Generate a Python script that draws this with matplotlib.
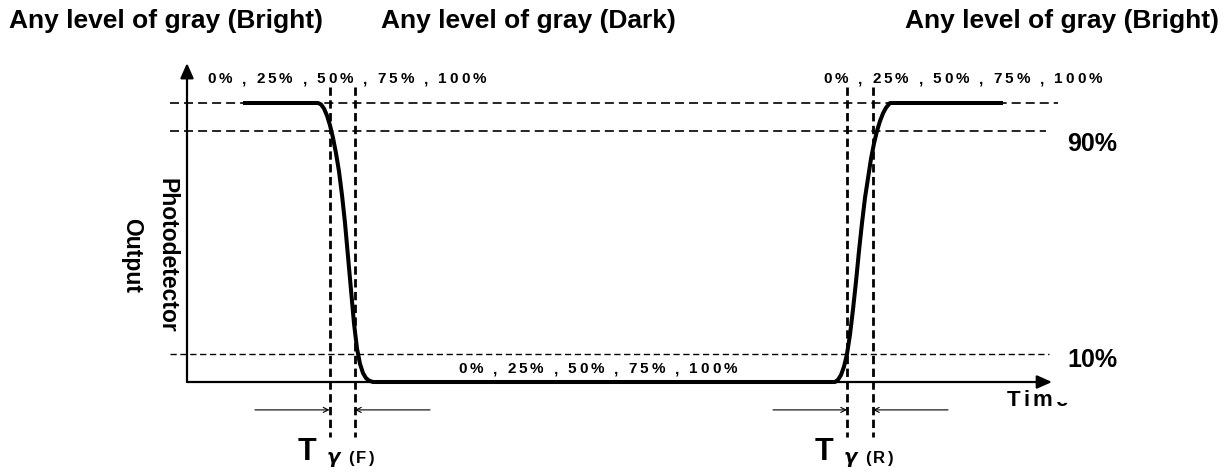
import matplotlib
matplotlib.use("Agg")
import matplotlib.pyplot as plt
from matplotlib.patches import ArrowStyle, Rectangle
from matplotlib.font_manager import FontProperties, findfont, get_font

plt.rcParams['lines.scale_dashes'] = False
plt.rcParams['font.family'] = ['Liberation Sans', 'DejaVu Sans']

# ---------------- data (time units, output in %) ----------------
level_high = 100
level_90 = 90
level_10 = 10
level_low = 0

plateau_start = 5.6
plateau_end = 81.6

fall_t = [13.1, 13.4, 13.7, 14.0, 14.3, 14.6, 14.9, 15.2, 15.5, 15.8,
          16.1, 16.4, 16.7, 17.0, 17.3, 17.6, 17.9, 18.2, 18.6]
fall_v = [100, 99.5, 98, 95.5, 92, 87.5, 82, 75.5, 67, 57,
          45, 33, 21, 12, 6.5, 3.2, 1.4, 0.5, 0]
rise_t = [64.8, 65.1, 65.4, 65.7, 66.0, 66.3, 66.6, 66.9, 67.2, 67.5,
          67.8, 68.1, 68.4, 68.7, 69.0, 69.3, 69.6, 69.9, 70.3]
rise_v = [0, 0.8, 2.5, 5.5, 10, 17, 26, 36, 47, 57,
          66, 73, 80, 85.5, 90, 93.5, 96.3, 98.3, 100]

fall_markers = [14.25, 16.8]
rise_markers = [66.0, 68.6]

header_labels = ["Any level of gray (Bright)", "Any level of gray (Dark)", "Any level of gray (Bright)"]
gray_steps = "0% , 25% , 50% , 75% , 100%"
level_labels = ["90%", "10%"]
y_label_lines = ["Photodetector", "Output"]
x_label = "Tim"

# ---------------- figure / scales ----------------
W, H = 1224, 474
fig = plt.figure(figsize=(W / 100, H / 100), dpi=100)
ax = fig.add_axes([0, 0, 1, 1])
ax.axis('off')
X0_PX, PX_PER_T = 187, 10.0
Y0_PX, PX_PER_PCT = 382, 2.79
ax.set_xlim(-X0_PX / PX_PER_T, (W - X0_PX) / PX_PER_T)
ax.set_ylim(-(H - Y0_PX) / PX_PER_PCT, Y0_PX / PX_PER_PCT)

# waveform
wave_t = [plateau_start] + fall_t + rise_t + [plateau_end]
wave_v = [level_high] + fall_v + rise_v + [level_high]
ax.plot(wave_t, wave_v, color='black', lw=2.9, solid_joinstyle='round',
        solid_capstyle='butt', zorder=5)

# level dashed lines
ax.plot([-1.7, 87.1], [level_high, level_high], color='black', lw=1.2,
        ls=(0, (6.5, 3.6)), zorder=2)
ax.plot([-1.7, 85.9], [level_90, level_90], color='black', lw=1.2,
        ls=(0, (6.5, 3.6)), zorder=2)
ax.plot([-1.7, 86.2], [level_10, level_10], color='black', lw=1.0,
        ls=(0, (4.5, 2.6)), zorder=2)

# vertical marker dashed lines
for xm in fall_markers + rise_markers:
    ax.plot([xm, xm], [105.7, -19.7], color='black', lw=2.0,
            ls=(0, (6.0, 3.2)), zorder=3)

# axes with arrow heads
head = ArrowStyle('-|>', head_length=0.45, head_width=0.2)
ax.annotate('', xy=(0, 114.3), xytext=(0, level_low),
            arrowprops=dict(arrowstyle=head, lw=1.6, color='black',
                            shrinkA=0, shrinkB=0, mutation_scale=20), zorder=4)
ax.annotate('', xy=(86.5, level_low), xytext=(0, level_low),
            arrowprops=dict(arrowstyle=head, lw=1.6, color='black',
                            shrinkA=0, shrinkB=0, mutation_scale=20), zorder=4)

# time interval arrows
thin = dict(arrowstyle='->', lw=0.8, color='black', shrinkA=0, shrinkB=0,
            mutation_scale=9)
ax.annotate('', xy=(fall_markers[0], -10), xytext=(6.8, -10), arrowprops=thin)
ax.annotate('', xy=(fall_markers[1], -10), xytext=(24.3, -10), arrowprops=thin)
ax.annotate('', xy=(rise_markers[0], -10), xytext=(58.6, -10), arrowprops=thin)
ax.annotate('', xy=(rise_markers[1], -10), xytext=(76.1, -10), arrowprops=thin)


# ---------------- text helpers (pixel layout) ----------------
def fx(px):
    return px / W


def fy(py):
    return 1 - py / H


def advance(ch, size, fp):
    font = get_font(findfont(fp))
    font.set_size(size, 100)
    g = font.load_char(ord(ch))
    return g.linearHoriAdvance / 65536.0


def spaced(x_left, baseline, s, size, track, family='Liberation Sans',
           weight='bold', style='normal'):
    fp = FontProperties(family=family, weight=weight, style=style, size=size)
    x = x_left
    for ch in s:
        if ch != ' ':
            fig.text(fx(x), fy(baseline), ch, fontproperties=fp,
                     ha='left', va='baseline')
        x += advance(ch, size, fp) + track
    return x


# headers
fig.text(fx(166), fy(28), header_labels[0], fontsize=19, fontweight='bold',
         ha='center', va='baseline')
fig.text(fx(528), fy(28), header_labels[1], fontsize=19, fontweight='bold',
         ha='center', va='baseline')
fig.text(fx(1062), fy(28), header_labels[2], fontsize=19, fontweight='bold',
         ha='center', va='baseline')

# gray step labels
spaced(207, 83, gray_steps, 11, 2.9)
spaced(823, 83, gray_steps, 11, 2.9)
spaced(458, 373, gray_steps, 11, 2.9)

# level labels
fig.text(fx(1092), fy(144), level_labels[0], fontsize=18, fontweight='bold',
         ha='center', va='center')
fig.text(fx(1092), fy(360), level_labels[1], fontsize=18, fontweight='bold',
         ha='center', va='center')

# y axis label (rotated)
fig.text(fx(167), fy(255), y_label_lines[0], fontsize=16.5, fontweight='bold',
         rotation=-90, ha='center', va='center')
fig.text(fx(132), fy(256), y_label_lines[1], fontsize=16.5, fontweight='bold',
         rotation=-90, ha='center', va='center')

# x axis label ("Time", last letter cut off at the image edge of the source)
x_end = spaced(1007, 406, x_label, 16, 3.0)
e_txt = fig.text(fx(x_end), fy(406), "e", fontsize=16, fontweight='bold',
                 ha='left', va='baseline')
clip = Rectangle((fx(x_end - 2), fy(409)), fx(20), (402 - 409) / -H,
                 transform=fig.transFigure, visible=False)
fig.add_artist(clip)
e_txt.set_clip_path(clip)

# T gamma labels
for tx, suffix in [(298, "(F)"), (815, "(R)")]:
    fig.text(fx(tx), fy(460), "T", fontsize=22, fontweight='bold',
             ha='left', va='baseline')
    fig.text(fx(tx + 29), fy(463), "γ", fontsize=14, fontweight='bold',
             fontstyle='italic', family=['DejaVu Sans'], ha='left', va='baseline')
    spaced(tx + 50, 463, suffix, 12, 2.5)

fig.savefig("out.png", dpi=100, facecolor='white')
